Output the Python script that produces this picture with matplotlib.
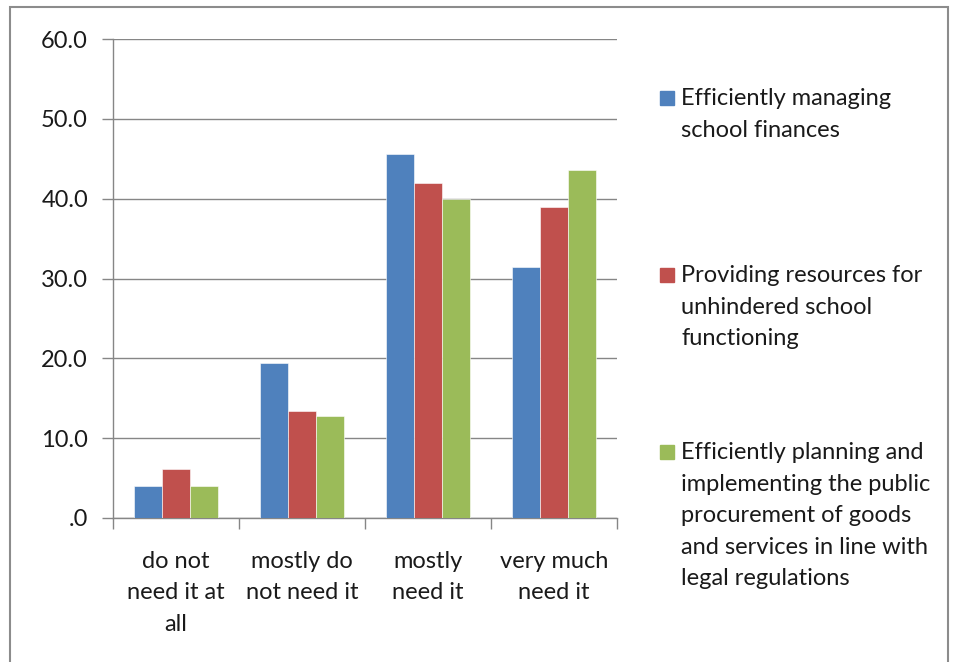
import numpy as np
import matplotlib.pyplot as plt
from matplotlib.patches import Rectangle

categories = ["do not\nneed it at\nall", "mostly do\nnot need it", "mostly\nneed it", "very much\nneed it"]
series_names = [
    "Efficiently managing\nschool finances",
    "Providing resources for\nunhindered school\nfunctioning",
    "Efficiently planning and\nimplementing the public\nprocurement of goods\nand services in line with\nlegal regulations",
]
finances = [4.0, 19.4, 45.6, 31.4]
resources = [6.2, 13.4, 41.9, 39.0]
procurement = [4.0, 12.8, 40.0, 43.6]
yticks = [0, 10, 20, 30, 40, 50, 60]
ytick_labels = [".0", "10.0", "20.0", "30.0", "40.0", "50.0", "60.0"]

colors = ["#4F81BD", "#C0504D", "#9BBB59"]
grey = "#868686"
txt = "#1a1a1a"
fs = 17
ls = 1.62
plt.rcParams["font.family"] = ["Lato", "DejaVu Sans"]

W, H = 960, 662
fig = plt.figure(figsize=(W / 100, H / 100), dpi=100)
ax = fig.add_axes([113 / W, 1 - 518 / H, 504 / W, 479 / H])

# figure border like the Excel chart area
fig.patches.append(Rectangle((10 / W, -0.05), 938 / W, 1.05 - 7 / H, transform=fig.transFigure,
                             fill=False, edgecolor="#8c8c8c", linewidth=1.5))

x = np.arange(len(categories))
bw = 0.222
for i, vals in enumerate([finances, resources, procurement]):
    ax.bar(x + (i - 1) * bw, vals, width=bw, color=colors[i], edgecolor="white", linewidth=0.4, zorder=3)

ax.set_xlim(-0.5, len(categories) - 0.5)
ax.set_ylim(0, 60)
ax.set_yticks(yticks)
ax.set_yticklabels(ytick_labels, fontsize=fs, color=txt)
ax.yaxis.grid(True, color=grey, linewidth=1, zorder=0)
ax.tick_params(axis="y", length=8, color=grey, width=1, pad=10)

ax.set_xticks(x)
ax.set_xticklabels(categories, fontsize=fs, color=txt, linespacing=ls)
ax.tick_params(axis="x", length=0, pad=23.5)
ax.set_xticks(np.arange(-0.5, len(categories)), minor=True)
ax.tick_params(axis="x", which="minor", length=8, color=grey, width=1, direction="out")

for side in ["top", "right"]:
    ax.spines[side].set_visible(False)
for side in ["left", "bottom"]:
    ax.spines[side].set_color(grey)
    ax.spines[side].set_linewidth(1)

# legend drawn by hand to keep Excel's even spacing
starts = [98, 275, 452]
for i, name in enumerate(series_names):
    y0 = starts[i]
    fig.patches.append(Rectangle((660 / W, 1 - (y0 + 7) / H), 14 / W, 14 / H,
                                 transform=fig.transFigure, color=colors[i]))
    fig.text(681 / W, 1 - (y0 - 10) / H, name, fontsize=fs, color=txt,
             va="top", ha="left", linespacing=ls)

fig.savefig("out.png", dpi=100)
